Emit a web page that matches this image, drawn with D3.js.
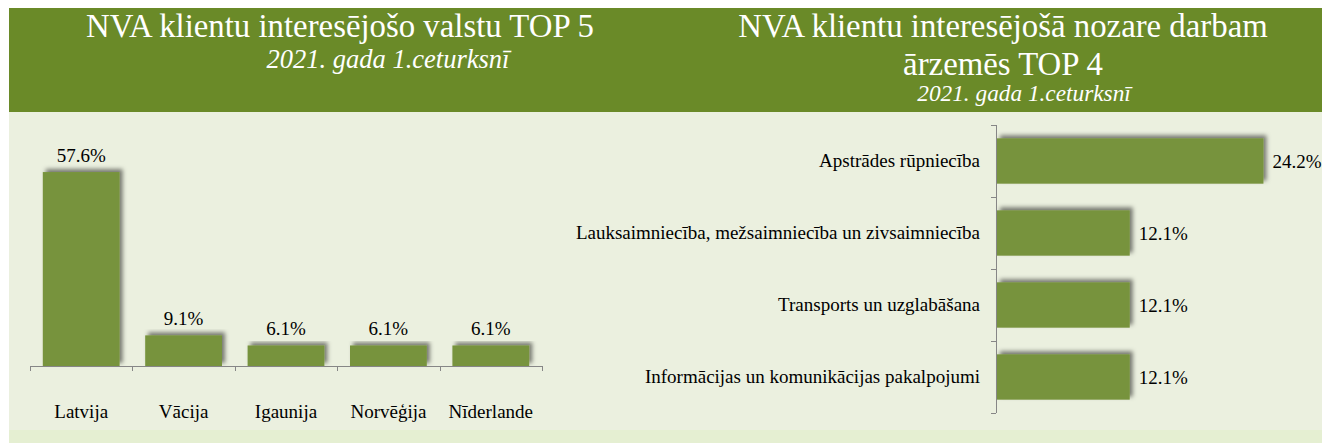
<!DOCTYPE html>
<html><head><meta charset="utf-8">
<script src="https://cdn.jsdelivr.net/npm/d3@7"></script>
<style>
html,body{margin:0;padding:0;background:#fff;}
svg{display:block;font-family:"Liberation Serif","Times New Roman",serif;}
</style></head>
<body>
<svg id="chart" width="1322" height="443"></svg>
<script>
// ---- data ----
const countries = ["Latvija", "Vācija", "Igaunija", "Norvēģija", "Nīderlande"];
const countryValues = [57.6, 9.1, 6.1, 6.1, 6.1];
const sectors = ["Apstrādes rūpniecība", "Lauksaimniecība, mežsaimniecība un zivsaimniecība", "Transports un uzglabāšana", "Informācijas un komunikācijas pakalpojumi"];
const sectorValues = [24.2, 12.1, 12.1, 12.1];
const leftTitle = "NVA klientu interesējošo valstu TOP 5";
const rightTitleLines = ["NVA klientu interesējošā nozare darbam", "ārzemēs TOP 4"];
const subtitle = "2021. gada 1.ceturksnī";

const HEADER = "#6A8A28", BAR = "#77933C", PANEL = "#EBF0DF", BAND = "#E5EFD2", AXIS = "#868686";
const fmt = v => v.toFixed(1) + "%";

const svg = d3.select("#chart");
const defs = svg.append("defs");
const f = defs.append("filter").attr("id","sh").attr("x","-20%").attr("y","-20%").attr("width","140%").attr("height","140%");
f.append("feDropShadow").attr("dx",3).attr("dy",-3).attr("stdDeviation",2).attr("flood-color","#000").attr("flood-opacity",0.5);

// backgrounds
svg.append("rect").attr("x",9).attr("y",112).attr("width",1313).attr("height",318).attr("fill",PANEL);
svg.append("rect").attr("x",9).attr("y",430).attr("width",1313).attr("height",13).attr("fill",BAND);
svg.append("rect").attr("x",9).attr("y",8).attr("width",1313).attr("height",104).attr("fill",HEADER);

// titles
svg.append("text").attr("x",340).attr("y",37).attr("text-anchor","middle").attr("fill","#fff")
  .attr("font-size",32.8).text(leftTitle);
svg.append("text").attr("x",388).attr("y",68).attr("text-anchor","middle").attr("fill","#fff")
  .attr("font-size",26.5).attr("font-style","italic").text(subtitle);
rightTitleLines.forEach((t,i)=>{
  svg.append("text").attr("x",1003).attr("y",37+i*38).attr("text-anchor","middle").attr("fill","#fff")
    .attr("font-size",32.8).text(t);
});
svg.append("text").attr("x",1024).attr("y",101).attr("text-anchor","middle").attr("fill","#fff")
  .attr("font-size",23.3).attr("font-style","italic").text(subtitle);

// ---- left chart ----
const x = d3.scaleBand().domain(countries).range([30,542]).paddingInner(0.25).paddingOuter(0.125);
const y = d3.scaleLinear().domain([0,60]).range([366,164]);
const L = svg.append("g");
L.selectAll("rect.bar").data(countries).join("rect").attr("class","bar")
  .attr("x",d=>x(d)).attr("width",x.bandwidth())
  .attr("y",(d,i)=>y(countryValues[i])).attr("height",(d,i)=>y(0)-y(countryValues[i]))
  .attr("fill",BAR).attr("filter","url(#sh)");
L.append("line").attr("x1",x.range()[0]).attr("x2",x.range()[1]).attr("y1",y(0)+0.5).attr("y2",y(0)+0.5)
  .attr("stroke",AXIS).attr("stroke-width",1);
d3.range(countries.length+1).forEach(i=>{
  const xx = Math.round(x.range()[0] + i*x.step())+0.5;
  L.append("line").attr("x1",xx).attr("x2",xx).attr("y1",y(0)).attr("y2",y(0)+5).attr("stroke",AXIS);
});
L.selectAll("text.val").data(countries).join("text").attr("class","val")
  .attr("x",d=>x(d)+x.bandwidth()/2).attr("y",(d,i)=>y(countryValues[i])-10)
  .attr("text-anchor","middle").attr("font-size",19).attr("fill","#000")
  .text((d,i)=>fmt(countryValues[i]));
L.selectAll("text.cat").data(countries).join("text").attr("class","cat")
  .attr("x",d=>x(d)+x.bandwidth()/2).attr("y",417.5)
  .attr("text-anchor","middle").attr("font-size",19).attr("fill","#000").text(d=>d);

// ---- right chart ----
const yb = d3.scaleBand().domain(sectors).range([125,413]).paddingInner(0.37).paddingOuter(0.185);
const xr = d3.scaleLinear().domain([0,25]).range([996,1272.3]);
const R = svg.append("g");
R.selectAll("rect.bar").data(sectors).join("rect").attr("class","bar")
  .attr("x",xr(0)+1).attr("y",d=>yb(d)).attr("height",yb.bandwidth())
  .attr("width",(d,i)=>xr(sectorValues[i])-xr(0)-1)
  .attr("fill",BAR).attr("filter","url(#sh)");
R.append("line").attr("x1",xr(0)+0.5).attr("x2",xr(0)+0.5).attr("y1",yb.range()[0]).attr("y2",yb.range()[1])
  .attr("stroke",AXIS);
d3.range(sectors.length+1).forEach(i=>{
  const yy = Math.round(yb.range()[0] + i*yb.step())+0.5;
  R.append("line").attr("x1",xr(0)-5).attr("x2",xr(0)).attr("y1",yy).attr("y2",yy).attr("stroke",AXIS);
});
R.selectAll("text.cat").data(sectors).join("text").attr("class","cat")
  .attr("x",980).attr("y",d=>yb(d)+yb.bandwidth()/2+6)
  .attr("text-anchor","end").attr("font-size",19).attr("fill","#000").text(d=>d);
R.selectAll("text.val").data(sectors).join("text").attr("class","val")
  .attr("x",(d,i)=>xr(sectorValues[i])+9).attr("y",d=>yb(d)+yb.bandwidth()/2+7)
  .attr("font-size",19).attr("fill","#000").text((d,i)=>fmt(sectorValues[i]));
</script>
</body></html>
